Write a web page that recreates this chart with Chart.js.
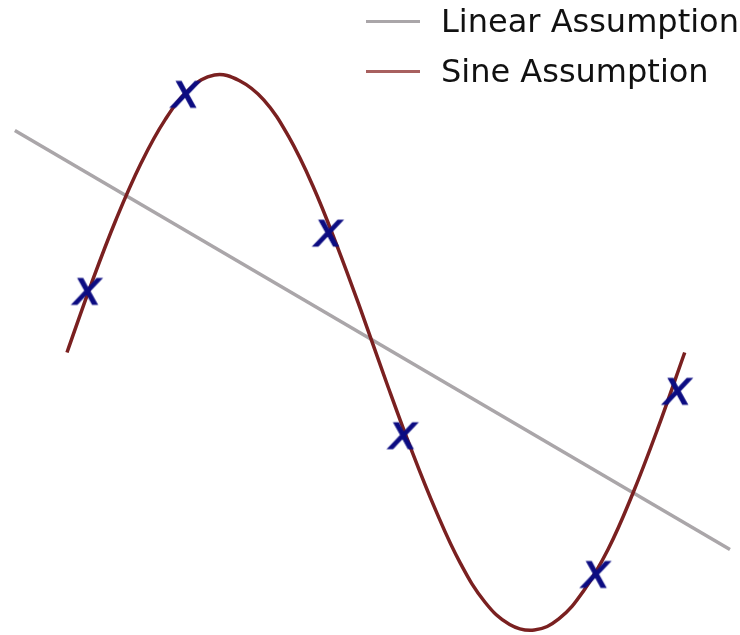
<!DOCTYPE html>
<html lang="en">
<head>
    <meta charset="UTF-8">
    <title>Linear vs Sine Assumption</title>
    <script src="https://cdn.jsdelivr.net/npm/chart.js"></script>
    <style>
        body { margin: 0; background: #fff; overflow: hidden; }
        #wrap { position: relative; width: 740px; height: 635px; overflow: hidden; }
        #legend { position: absolute; left: 366px; top: -4px; font-family: "DejaVu Sans", sans-serif; font-size: 32px; color: #111; white-space: nowrap; }
        .row { display: flex; align-items: center; height: 50px; }
        .swatch { width: 54px; height: 3px; margin-right: 21px; }
    </style>
</head>
<body>
    <div id="wrap">
        <canvas id="fitChart" width="740" height="635"></canvas>
        <div id="legend">
            <div class="row"><span class="swatch" style="background:#aaa6a9"></span>Linear Assumption</div>
            <div class="row"><span class="swatch" style="background:#a8605f"></span>Sine Assumption</div>
        </div>
    </div>

    <script>
        // sine curve
        const sineX = [0, 0.25, 0.5, 0.75, 1.0, 1.25, 1.5, 1.75, 2.0, 2.25, 2.5, 2.75, 3.0,
                       3.25, 3.5, 3.75, 4.0, 4.25, 4.5, 4.75, 5.0, 5.25, 5.5, 5.75, 6.0, 6.28];
        const sineY = [0, 0.25, 0.48, 0.68, 0.84, 0.95, 1.0, 0.98, 0.91, 0.78, 0.6, 0.38, 0.14,
                       -0.11, -0.35, -0.57, -0.76, -0.9, -0.98, -1.0, -0.96, -0.86, -0.71, -0.51, -0.28, 0];
        // straight fit
        const lineX = [-0.53, 6.74];
        const lineY = [0.8, -0.71];
        // observed samples (x markers)
        const sampleX = [0.2, 1.2, 2.65, 3.41, 5.37, 6.2];
        const sampleY = [0.22, 0.93, 0.43, -0.3, -0.8, -0.14];

        function zip(xs, ys) {
            return xs.map((x, i) => ({ x: x, y: ys[i] }));
        }

        // italic "x" glyph as marker
        function makeMarker() {
            const c = document.createElement("canvas");
            c.width = 52; c.height = 52;
            const g = c.getContext("2d");
            g.font = 'oblique 48px "DejaVu Sans"';
            g.fillStyle = "#0c0c82";
            g.strokeStyle = "#0c0c82";
            g.lineWidth = 1;
            const m = g.measureText("x");
            const w = m.actualBoundingBoxLeft + m.actualBoundingBoxRight;
            const h = m.actualBoundingBoxAscent + m.actualBoundingBoxDescent;
            const tx = (52 - w) / 2 + m.actualBoundingBoxLeft;
            const ty = (52 - h) / 2 + m.actualBoundingBoxAscent;
            g.fillText("x", tx, ty);
            g.strokeText("x", tx, ty);
            return c;
        }

        const ctx = document.getElementById("fitChart").getContext("2d");
        new Chart(ctx, {
            type: "scatter",
            data: {
                datasets: [
                    {
                        label: "Samples",
                        data: zip(sampleX, sampleY),
                        pointStyle: makeMarker(),
                        pointRadius: 10
                    },
                    {
                        label: "Sine Assumption",
                        data: zip(sineX, sineY),
                        showLine: true,
                        borderColor: "#7a2020",
                        borderWidth: 3.5,
                        pointRadius: 0,
                        tension: 0.4
                    },
                    {
                        label: "Linear Assumption",
                        data: zip(lineX, lineY),
                        showLine: true,
                        borderColor: "#aaa6a9",
                        borderWidth: 3.5,
                        pointRadius: 0
                    }
                ]
            },
            options: {
                responsive: false,
                animation: false,
                layout: { padding: 0, autoPadding: false },
                plugins: { legend: { display: false }, tooltip: { enabled: false } },
                scales: {
                    x: { type: "linear", display: false, min: -0.681, max: 6.842 },
                    y: { type: "linear", display: false, min: -1.018, max: 1.27 }
                }
            }
        });
    </script>
</body>
</html>
